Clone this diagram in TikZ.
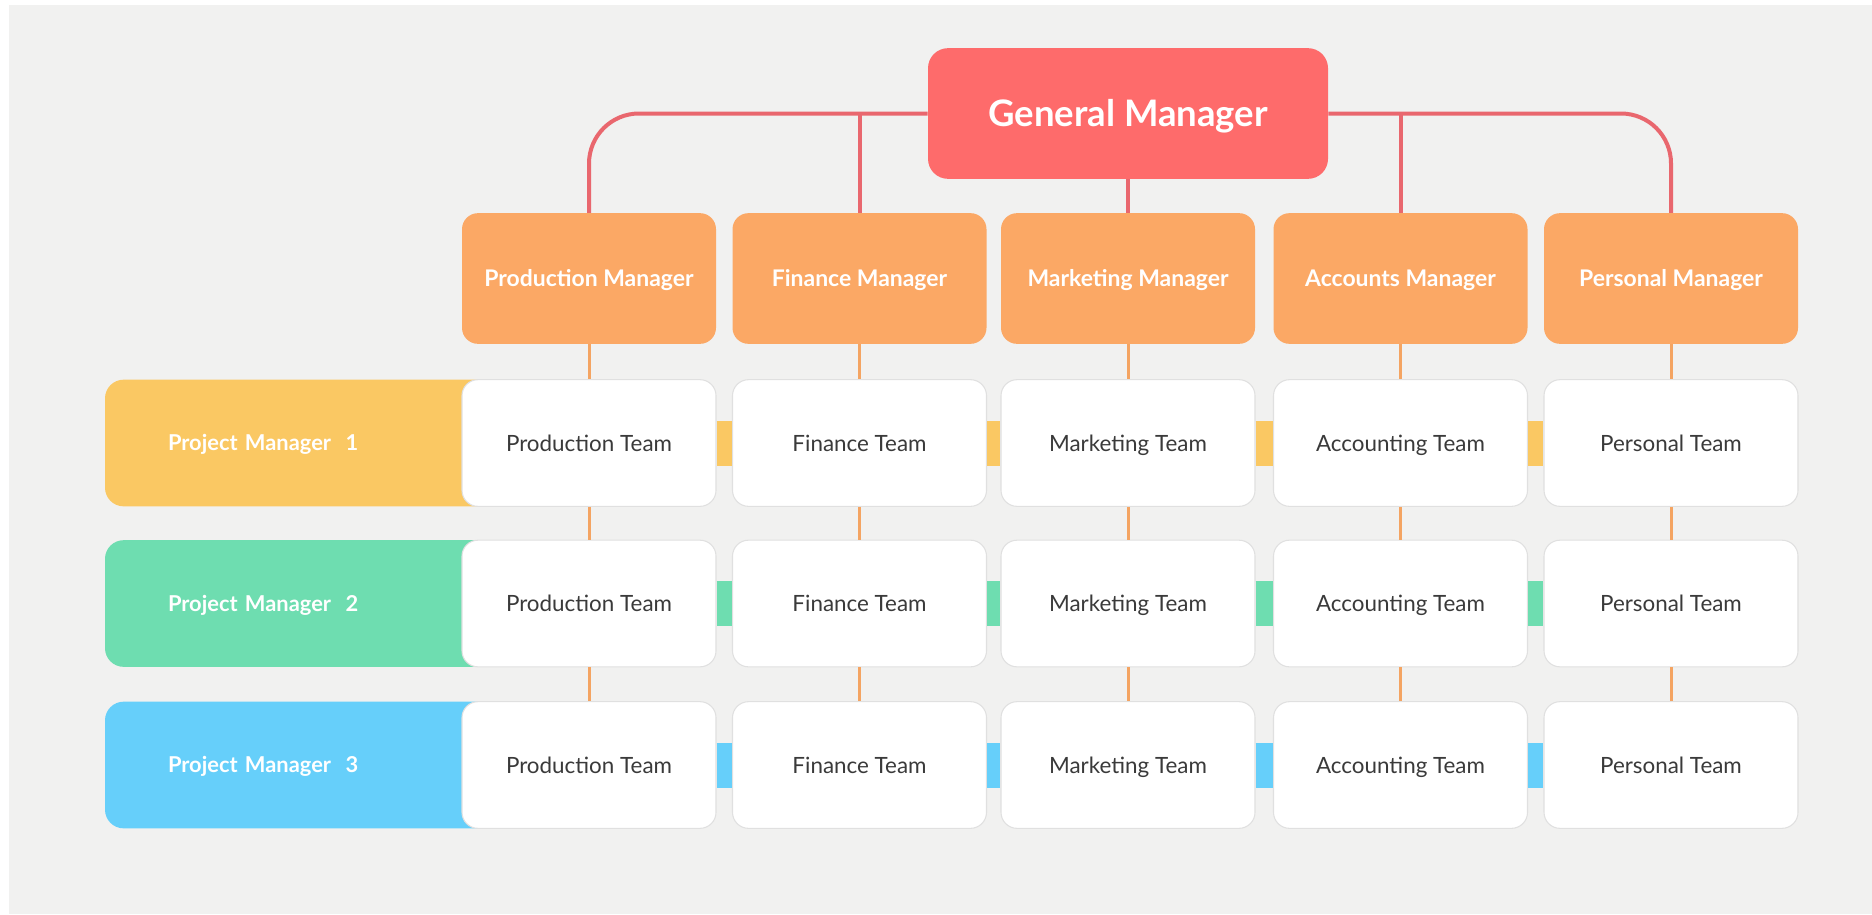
\documentclass[tikz,border=0pt]{standalone}
\usepackage{fontspec}
\setmainfont{Lato}
\usepackage{xcolor}
\usepackage{tikz}
\definecolor{bg}{HTML}{F1F1F0}
\definecolor{gmred}{HTML}{FE6B6B}
\definecolor{redline}{HTML}{E9676E}
\definecolor{mgrorange}{HTML}{FBA865}
\definecolor{orline}{HTML}{F4A462}
\definecolor{pmyellow}{HTML}{FAC863}
\definecolor{pmgreen}{HTML}{6EDDB0}
\definecolor{pmblue}{HTML}{66CFFA}
\definecolor{teamborder}{HTML}{E0E0E0}
\definecolor{teamtext}{HTML}{3A3A3A}
\tikzset{
  gmbox/.style={fill=gmred,text=white,rounded corners=15pt,minimum width=300pt,minimum height=98pt,text height=19.5pt,text depth=0pt,font=\bfseries\fontsize{27.4}{32}\selectfont},
  mgr/.style={fill=mgrorange,text=white,rounded corners=12pt,minimum width=190.5pt,minimum height=98pt,text height=12.4pt,text depth=0pt,font=\bfseries\fontsize{17.2}{20}\selectfont},
  team/.style={fill=white,draw=teamborder,line width=0.8pt,rounded corners=12pt,minimum width=190.5pt,minimum height=95pt,text height=12pt,text depth=0pt,text=teamtext,font=\fontsize{16.8}{20}\selectfont},
  pmbar/.style={rounded corners=14pt,minimum width=300pt,minimum height=95pt,text width=205.5pt,text height=11.8pt,text depth=0pt,align=left,text=white,font=\bfseries\fontsize{16.4}{19}\selectfont},
  gmline/.style={draw=redline,line width=3pt,rounded corners=37.5pt},
  band/.style={draw=#1,line width=33.75pt}
}
\def\cn#1#2{\draw[draw=orline,line width=2.25pt] (#1) -- (#2);}
\newcommand{\nbox}[4][]{\node[#1] (#2) at (#3) {#4};}

\begin{document}
\begin{tikzpicture}[x=0.75pt,y=-0.75pt]
    \useasboundingbox (0,0) rectangle (1872,914);
    \fill[white] (0,0) rectangle (1872,914);
    \fill[bg] (9,5) rectangle (1872,914);

    % top level
    \nbox[gmbox]{gm}{1128,113.5}{General Manager}

    \nbox[mgr]{prodm}{589,278.5}{Production Manager}
    \nbox[mgr]{finm}{859.5,278.5}{Finance Manager}
    \nbox[mgr]{mktm}{1128,278.5}{Marketing Manager}
    \nbox[mgr]{accm}{1400.5,278.5}{Accounts Manager}
    \nbox[mgr]{persm}{1671,278.5}{Personal Manager}

    \draw[gmline] (gm.west) -| (prodm.north);
    \draw[gmline] (gm.east) -| (persm.north);
    \draw[gmline] (finm.north) -- (finm.north |- gm.west);
    \draw[gmline] (accm.north) -- (accm.north |- gm.east);
    \draw[gmline] (mktm.north) -- (mktm.north |- gm.south);

    % project managers
    \nbox[pmbar,fill=pmyellow]{pm1}{305,443}{Project Manager~~1}
    \nbox[pmbar,fill=pmgreen]{pm2}{305,603.5}{Project Manager~~2}
    \nbox[pmbar,fill=pmblue]{pm3}{305,765}{Project Manager~~3}

    % teams
    \nbox[team]{prod1}{589,443}{Production Team}
    \nbox[team]{fin1}{859.5,443}{Finance Team}
    \nbox[team]{mkt1}{1128,443}{Marketing Team}
    \nbox[team]{acc1}{1400.5,443}{Accounting Team}
    \nbox[team]{pers1}{1671,443}{Personal Team}

    \nbox[team]{prod2}{589,603.5}{Production Team}
    \nbox[team]{fin2}{859.5,603.5}{Finance Team}
    \nbox[team]{mkt2}{1128,603.5}{Marketing Team}
    \nbox[team]{acc2}{1400.5,603.5}{Accounting Team}
    \nbox[team]{pers2}{1671,603.5}{Personal Team}

    \nbox[team]{prod3}{589,765}{Production Team}
    \nbox[team]{fin3}{859.5,765}{Finance Team}
    \nbox[team]{mkt3}{1128,765}{Marketing Team}
    \nbox[team]{acc3}{1400.5,765}{Accounting Team}
    \nbox[team]{pers3}{1671,765}{Personal Team}

    % row bands
    \draw[band=pmyellow] (prod1.east) -- (fin1.west);
    \draw[band=pmyellow] (fin1.east) -- (mkt1.west);
    \draw[band=pmyellow] (mkt1.east) -- (acc1.west);
    \draw[band=pmyellow] (acc1.east) -- (pers1.west);

    \draw[band=pmgreen] (prod2.east) -- (fin2.west);
    \draw[band=pmgreen] (fin2.east) -- (mkt2.west);
    \draw[band=pmgreen] (mkt2.east) -- (acc2.west);
    \draw[band=pmgreen] (acc2.east) -- (pers2.west);

    \draw[band=pmblue] (prod3.east) -- (fin3.west);
    \draw[band=pmblue] (fin3.east) -- (mkt3.west);
    \draw[band=pmblue] (mkt3.east) -- (acc3.west);
    \draw[band=pmblue] (acc3.east) -- (pers3.west);

    % columns
    \cn{prodm.south}{prod1.north} \cn{prod1.south}{prod2.north} \cn{prod2.south}{prod3.north}
    \cn{finm.south}{fin1.north} \cn{fin1.south}{fin2.north} \cn{fin2.south}{fin3.north}
    \cn{mktm.south}{mkt1.north} \cn{mkt1.south}{mkt2.north} \cn{mkt2.south}{mkt3.north}
    \cn{accm.south}{acc1.north} \cn{acc1.south}{acc2.north} \cn{acc2.south}{acc3.north}
    \cn{persm.south}{pers1.north} \cn{pers1.south}{pers2.north} \cn{pers2.south}{pers3.north}

\end{tikzpicture}
\end{document}
